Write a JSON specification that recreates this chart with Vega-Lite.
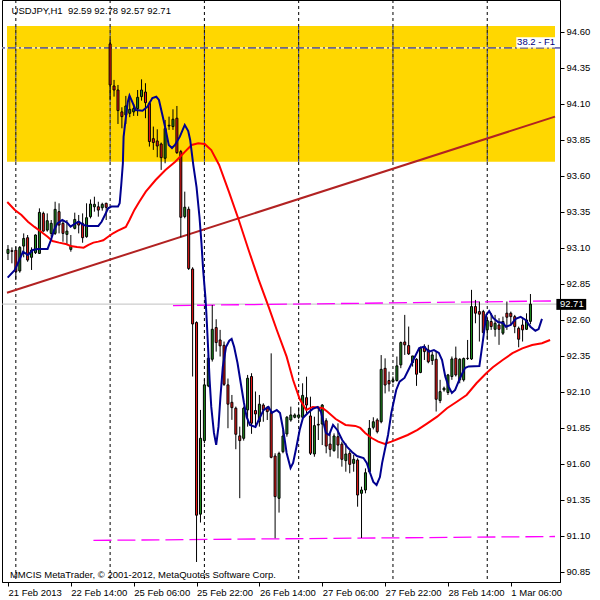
{
 "$schema": "https://vega.github.io/schema/vega-lite/v6.json",
 "width": 558,
 "height": 582,
 "autosize": {"type": "none"},
 "padding": {"left": 2, "top": 0, "right": 40, "bottom": 18},
 "background": "white",
 "config": {"view": {"stroke": "black", "strokeWidth": 1}, "font": "Liberation Sans"},
 "datasets": {
  "zone": [{"i1": -0.25, "i2": 139.25, "p1": 93.699, "p2": 94.641}],
  "grid": [{"i": 2}, {"i": 26}, {"i": 50}, {"i": 74}, {"i": 98}, {"i": 122}],
  "segs": [
   {"k": "trend", "i1": -0.25, "p1": 92.789, "i2": 139.25, "p2": 94.012},
   {"k": "mag1", "i1": 42, "p1": 92.700, "i2": 139.25, "p2": 92.732},
   {"k": "mag2", "i1": 21.75, "p1": 91.069, "i2": 139.25, "p2": 91.096}
  ],
  "candles": [
   {"i":0,"o":93.062,"h":93.120,"l":93.016,"c":93.090},
   {"i":1,"o":93.081,"h":93.104,"l":92.993,"c":93.076},
   {"i":2,"o":93.085,"h":93.109,"l":92.877,"c":92.935},
   {"i":3,"o":92.940,"h":93.113,"l":92.928,"c":93.104},
   {"i":4,"o":93.113,"h":93.201,"l":93.035,"c":93.166},
   {"i":5,"o":93.171,"h":93.190,"l":93.004,"c":93.016},
   {"i":6,"o":93.035,"h":93.104,"l":92.947,"c":93.085},
   {"i":7,"o":93.067,"h":93.194,"l":93.058,"c":93.190},
   {"i":8,"o":93.062,"h":93.375,"l":93.058,"c":93.347},
   {"i":9,"o":93.340,"h":93.352,"l":93.213,"c":93.217},
   {"i":10,"o":93.224,"h":93.340,"l":93.213,"c":93.289},
   {"i":11,"o":93.201,"h":93.294,"l":93.178,"c":93.271},
   {"i":12,"o":93.201,"h":93.421,"l":93.190,"c":93.368},
   {"i":13,"o":93.352,"h":93.410,"l":93.201,"c":93.259},
   {"i":14,"o":93.271,"h":93.294,"l":93.143,"c":93.201},
   {"i":15,"o":93.194,"h":93.294,"l":93.120,"c":93.217},
   {"i":16,"o":93.090,"h":93.190,"l":93.074,"c":93.113},
   {"i":17,"o":93.236,"h":93.345,"l":93.229,"c":93.298},
   {"i":18,"o":93.282,"h":93.329,"l":93.201,"c":93.259},
   {"i":19,"o":93.271,"h":93.340,"l":93.136,"c":93.171},
   {"i":20,"o":93.178,"h":93.410,"l":93.171,"c":93.310},
   {"i":21,"o":93.317,"h":93.437,"l":93.305,"c":93.405},
   {"i":22,"o":93.386,"h":93.456,"l":93.352,"c":93.403},
   {"i":23,"o":93.386,"h":93.421,"l":93.317,"c":93.363},
   {"i":24,"o":93.379,"h":93.414,"l":93.359,"c":93.403},
   {"i":25,"o":93.410,"h":93.414,"l":93.294,"c":93.382},
   {"i":26,"o":94.517,"h":94.549,"l":94.128,"c":94.232},
   {"i":27,"o":94.225,"h":94.267,"l":94.151,"c":94.197},
   {"i":28,"o":94.197,"h":94.232,"l":93.961,"c":94.054},
   {"i":29,"o":94.045,"h":94.077,"l":93.931,"c":94.012},
   {"i":30,"o":94.024,"h":94.156,"l":93.961,"c":94.086},
   {"i":31,"o":94.035,"h":94.151,"l":94.008,"c":94.063},
   {"i":32,"o":94.045,"h":94.100,"l":94.017,"c":94.068},
   {"i":33,"o":94.068,"h":94.197,"l":94.017,"c":94.146},
   {"i":34,"o":94.151,"h":94.271,"l":94.123,"c":94.197},
   {"i":35,"o":94.183,"h":94.244,"l":94.001,"c":94.109},
   {"i":36,"o":94.105,"h":94.116,"l":93.804,"c":93.839},
   {"i":37,"o":93.859,"h":93.943,"l":93.781,"c":93.832},
   {"i":38,"o":93.843,"h":93.924,"l":93.730,"c":93.808},
   {"i":39,"o":93.822,"h":93.832,"l":93.642,"c":93.727},
   {"i":40,"o":93.723,"h":93.989,"l":93.688,"c":93.929},
   {"i":41,"o":93.947,"h":94.012,"l":93.920,"c":93.952},
   {"i":42,"o":93.943,"h":94.063,"l":93.920,"c":93.994},
   {"i":43,"o":94.001,"h":94.086,"l":93.753,"c":93.762},
   {"i":44,"o":93.769,"h":93.781,"l":93.174,"c":93.313},
   {"i":45,"o":93.318,"h":93.491,"l":93.306,"c":93.383},
   {"i":46,"o":93.369,"h":93.387,"l":92.947,"c":92.957},
   {"i":47,"o":92.954,"h":92.966,"l":92.207,"c":92.572},
   {"i":48,"o":92.582,"h":92.590,"l":90.919,"c":91.244},
   {"i":49,"o":91.251,"h":91.975,"l":91.193,"c":91.778},
   {"i":50,"o":91.762,"h":92.188,"l":91.744,"c":92.149},
   {"i":51,"o":92.142,"h":92.357,"l":92.133,"c":92.334},
   {"i":52,"o":92.327,"h":92.704,"l":92.311,"c":92.535},
   {"i":53,"o":92.547,"h":92.605,"l":92.380,"c":92.443},
   {"i":54,"o":92.461,"h":92.531,"l":92.346,"c":92.420},
   {"i":55,"o":92.424,"h":92.450,"l":92.142,"c":92.153},
   {"i":56,"o":92.149,"h":92.193,"l":91.848,"c":92.015},
   {"i":57,"o":92.028,"h":92.079,"l":91.906,"c":91.991},
   {"i":58,"o":91.987,"h":91.998,"l":91.702,"c":91.806},
   {"i":59,"o":91.795,"h":91.859,"l":91.362,"c":91.762},
   {"i":60,"o":91.778,"h":91.998,"l":91.762,"c":91.987},
   {"i":61,"o":91.975,"h":92.218,"l":91.859,"c":92.195},
   {"i":62,"o":92.207,"h":92.230,"l":91.809,"c":91.883},
   {"i":63,"o":91.971,"h":92.103,"l":91.859,"c":91.947},
   {"i":64,"o":91.894,"h":92.079,"l":91.859,"c":92.015},
   {"i":65,"o":92.009,"h":92.021,"l":91.893,"c":91.974},
   {"i":66,"o":91.991,"h":92.002,"l":91.905,"c":91.963},
   {"i":67,"o":91.956,"h":92.368,"l":91.639,"c":91.646},
   {"i":68,"o":91.655,"h":91.674,"l":91.084,"c":91.373},
   {"i":69,"o":91.361,"h":91.685,"l":91.262,"c":91.673},
   {"i":70,"o":91.685,"h":91.836,"l":91.674,"c":91.794},
   {"i":71,"o":91.808,"h":91.933,"l":91.789,"c":91.924},
   {"i":72,"o":91.905,"h":91.998,"l":91.893,"c":91.940},
   {"i":73,"o":91.924,"h":91.951,"l":91.917,"c":91.940},
   {"i":74,"o":91.924,"h":91.993,"l":91.910,"c":91.940},
   {"i":75,"o":91.924,"h":92.160,"l":91.910,"c":92.076},
   {"i":76,"o":92.060,"h":92.206,"l":91.951,"c":92.009},
   {"i":77,"o":91.933,"h":92.067,"l":91.662,"c":91.674},
   {"i":78,"o":91.669,"h":91.928,"l":91.650,"c":91.866},
   {"i":79,"o":91.875,"h":91.998,"l":91.766,"c":91.870},
   {"i":80,"o":91.877,"h":92.016,"l":91.731,"c":92.009},
   {"i":81,"o":91.900,"h":91.917,"l":91.674,"c":91.724},
   {"i":82,"o":91.738,"h":91.812,"l":91.650,"c":91.701},
   {"i":83,"o":91.692,"h":91.812,"l":91.685,"c":91.794},
   {"i":84,"o":91.789,"h":91.882,"l":91.639,"c":91.731},
   {"i":85,"o":91.738,"h":91.755,"l":91.581,"c":91.632},
   {"i":86,"o":91.623,"h":91.743,"l":91.546,"c":91.669},
   {"i":87,"o":91.674,"h":91.690,"l":91.535,"c":91.597},
   {"i":88,"o":91.604,"h":91.662,"l":91.546,"c":91.632},
   {"i":89,"o":91.627,"h":91.639,"l":91.303,"c":91.384},
   {"i":90,"o":91.396,"h":91.442,"l":91.086,"c":91.419},
   {"i":91,"o":91.419,"h":91.569,"l":91.396,"c":91.539},
   {"i":92,"o":91.546,"h":91.905,"l":91.535,"c":91.847},
   {"i":93,"o":91.854,"h":91.924,"l":91.840,"c":91.893},
   {"i":94,"o":91.905,"h":91.917,"l":91.812,"c":91.824},
   {"i":95,"o":91.893,"h":92.356,"l":91.882,"c":92.257},
   {"i":96,"o":92.264,"h":92.333,"l":92.090,"c":92.148},
   {"i":97,"o":92.179,"h":92.241,"l":92.103,"c":92.156},
   {"i":98,"o":92.172,"h":92.207,"l":92.160,"c":92.184},
   {"i":99,"o":92.179,"h":92.346,"l":92.172,"c":92.281},
   {"i":100,"o":92.288,"h":92.450,"l":92.265,"c":92.443},
   {"i":101,"o":92.447,"h":92.635,"l":92.357,"c":92.427},
   {"i":102,"o":92.422,"h":92.554,"l":92.357,"c":92.364},
   {"i":103,"o":92.304,"h":92.350,"l":92.276,"c":92.350},
   {"i":104,"o":92.327,"h":92.334,"l":92.142,"c":92.223},
   {"i":105,"o":92.235,"h":92.415,"l":92.230,"c":92.403},
   {"i":106,"o":92.415,"h":92.431,"l":92.322,"c":92.380},
   {"i":107,"o":92.392,"h":92.427,"l":92.299,"c":92.309},
   {"i":108,"o":92.318,"h":92.380,"l":92.288,"c":92.357},
   {"i":109,"o":92.327,"h":92.380,"l":91.964,"c":92.049},
   {"i":110,"o":92.040,"h":92.184,"l":92.022,"c":92.102},
   {"i":111,"o":92.114,"h":92.137,"l":92.102,"c":92.126},
   {"i":112,"o":92.096,"h":92.225,"l":92.079,"c":92.218},
   {"i":113,"o":92.207,"h":92.346,"l":92.184,"c":92.329},
   {"i":114,"o":92.334,"h":92.415,"l":92.207,"c":92.218},
   {"i":115,"o":92.184,"h":92.334,"l":92.160,"c":92.327},
   {"i":116,"o":92.184,"h":92.339,"l":92.172,"c":92.332},
   {"i":117,"o":92.334,"h":92.461,"l":92.322,"c":92.332},
   {"i":118,"o":92.329,"h":92.809,"l":92.322,"c":92.693},
   {"i":119,"o":92.693,"h":92.739,"l":92.577,"c":92.647},
   {"i":120,"o":92.658,"h":92.728,"l":92.450,"c":92.640},
   {"i":121,"o":92.658,"h":92.670,"l":92.508,"c":92.512},
   {"i":122,"o":92.531,"h":92.623,"l":92.461,"c":92.596},
   {"i":123,"o":92.589,"h":92.647,"l":92.531,"c":92.554},
   {"i":124,"o":92.535,"h":92.635,"l":92.484,"c":92.577},
   {"i":125,"o":92.565,"h":92.612,"l":92.427,"c":92.535},
   {"i":126,"o":92.508,"h":92.623,"l":92.496,"c":92.589},
   {"i":127,"o":92.647,"h":92.728,"l":92.531,"c":92.619},
   {"i":128,"o":92.647,"h":92.658,"l":92.565,"c":92.623},
   {"i":129,"o":92.623,"h":92.635,"l":92.508,"c":92.554},
   {"i":130,"o":92.542,"h":92.554,"l":92.410,"c":92.466},
   {"i":131,"o":92.565,"h":92.605,"l":92.450,"c":92.531},
   {"i":132,"o":92.535,"h":92.646,"l":92.531,"c":92.600},
   {"i":133,"o":92.590,"h":92.780,"l":92.570,"c":92.710}
  ],
  "blue": [
   {"i":-0.08,"p":92.894},{"i":1.75,"p":92.947},{"i":3.83,"p":93.074},{"i":5.08,"p":93.051},{"i":6.33,"p":93.086},
   {"i":7.58,"p":93.093},{"i":10.08,"p":93.093},{"i":10.93,"p":93.155},{"i":11.75,"p":93.225},{"i":12.58,"p":93.271},
   {"i":13.83,"p":93.294},{"i":15.08,"p":93.275},{"i":15.93,"p":93.248},{"i":17.18,"p":93.271},{"i":18,"p":93.282},
   {"i":19.25,"p":93.259},{"i":20.5,"p":93.253},{"i":23,"p":93.253},{"i":23.83,"p":93.282},{"i":24.68,"p":93.329},
   {"i":25.5,"p":93.375},{"i":26.33,"p":93.387},{"i":28,"p":93.387},{"i":28.43,"p":93.410},{"i":28.83,"p":93.537},
   {"i":29.25,"p":93.688},{"i":29.43,"p":93.871},{"i":29.93,"p":93.989},{"i":30.5,"p":94.114},{"i":30.93,"p":94.159},
   {"i":31.75,"p":94.107},{"i":32.5,"p":94.058},{"i":34.25,"p":94.053},{"i":35.5,"p":94.081},{"i":36.75,"p":94.141},
   {"i":37.75,"p":94.150},{"i":38.43,"p":94.128},{"i":39.25,"p":94.030},{"i":40,"p":93.940},{"i":40.93,"p":93.815},
   {"i":41.75,"p":93.794},{"i":42.5,"p":93.815},{"i":43.75,"p":93.873},{"i":45,"p":93.954},{"i":45.88,"p":93.912},
   {"i":46.38,"p":93.850},{"i":47.18,"p":93.676},{"i":48,"p":93.523},{"i":48.75,"p":93.315},{"i":49.25,"p":93.135},
   {"i":49.68,"p":92.947},{"i":50.25,"p":92.760},{"i":50.5,"p":92.648},{"i":50.93,"p":92.412},{"i":51.33,"p":92.183},
   {"i":51.75,"p":91.996},{"i":52.43,"p":91.815},{"i":53,"p":91.732},{"i":53.58,"p":91.857},{"i":54.08,"p":92.065},
   {"i":54.68,"p":92.273},{"i":55.5,"p":92.412},{"i":56.33,"p":92.456},{"i":56.93,"p":92.468},{"i":57.58,"p":92.412},
   {"i":58.43,"p":92.301},{"i":59.25,"p":92.162},{"i":60.08,"p":92.023},{"i":60.75,"p":91.926},{"i":61.58,"p":91.871},
   {"i":63,"p":91.857},{"i":63.83,"p":91.905},{"i":65.08,"p":91.975},{"i":66.33,"p":91.996},{"i":67.18,"p":91.954},
   {"i":68.43,"p":91.975},{"i":69.25,"p":91.954},{"i":70.08,"p":91.836},{"i":70.93,"p":91.676},{"i":71.93,"p":91.572},
   {"i":72.58,"p":91.607},{"i":73.43,"p":91.718},{"i":74.25,"p":91.836},{"i":75.08,"p":91.919},{"i":76.33,"p":91.954},
   {"i":77.58,"p":91.982},{"i":78.83,"p":91.996},{"i":79.68,"p":91.961},{"i":80.93,"p":91.815},{"i":81.75,"p":91.801},
   {"i":82.75,"p":91.871},{"i":83.83,"p":91.836},{"i":85.08,"p":91.766},{"i":86.33,"p":91.718},{"i":87.58,"p":91.683},
   {"i":88.83,"p":91.655},{"i":90.5,"p":91.641},{"i":91.33,"p":91.607},{"i":92.18,"p":91.537},{"i":93,"p":91.475},
   {"i":93.83,"p":91.454},{"i":94.68,"p":91.509},{"i":95.25,"p":91.607},{"i":95.93,"p":91.697},{"i":96.75,"p":91.801},
   {"i":97.58,"p":91.954},{"i":98.83,"p":92.114},{"i":99.68,"p":92.171},{"i":100.93,"p":92.197},{"i":102.18,"p":92.266},
   {"i":103.43,"p":92.336},{"i":104.68,"p":92.405},{"i":105.93,"p":92.414},{"i":107.18,"p":92.380},{"i":108.43,"p":92.391},
   {"i":109.68,"p":92.371},{"i":110.5,"p":92.322},{"i":111.33,"p":92.206},{"i":112.18,"p":92.137},{"i":113,"p":92.093},
   {"i":113.83,"p":92.114},{"i":115.08,"p":92.197},{"i":116.33,"p":92.266},{"i":117.25,"p":92.277},{"i":120,"p":92.280},
   {"i":120.93,"p":92.461},{"i":121.75,"p":92.635},{"i":122.5,"p":92.662},{"i":123.5,"p":92.614},{"i":124.75,"p":92.586},
   {"i":126,"p":92.579},{"i":126.75,"p":92.553},{"i":128,"p":92.565},{"i":129.25,"p":92.607},{"i":130.5,"p":92.621},
   {"i":131.75,"p":92.600},{"i":133,"p":92.553},{"i":134.25,"p":92.525},{"i":135.08,"p":92.537},{"i":135.93,"p":92.607}
  ],
  "red": [
   {"i":-0.18,"p":93.419},{"i":1.75,"p":93.364},{"i":3.43,"p":93.329},{"i":5.08,"p":93.282},{"i":6.75,"p":93.246},
   {"i":8.43,"p":93.213},{"i":10.08,"p":93.178},{"i":11.33,"p":93.148},{"i":13,"p":93.137},{"i":14.68,"p":93.128},
   {"i":15.93,"p":93.114},{"i":17.58,"p":93.107},{"i":19.25,"p":93.102},{"i":20.5,"p":93.121},{"i":21.75,"p":93.137},
   {"i":23,"p":93.144},{"i":24.25,"p":93.153},{"i":25.5,"p":93.178},{"i":26.75,"p":93.202},{"i":28,"p":93.220},
   {"i":30,"p":93.246},{"i":30.93,"p":93.294},{"i":32.18,"p":93.364},{"i":33.43,"p":93.421},{"i":35.08,"p":93.491},
   {"i":37.58,"p":93.572},{"i":40.08,"p":93.641},{"i":42.58,"p":93.699},{"i":45.08,"p":93.769},{"i":46.75,"p":93.815},
   {"i":48.43,"p":93.827},{"i":50.08,"p":93.822},{"i":51.75,"p":93.780},{"i":53.75,"p":93.676},{"i":56.25,"p":93.489},
   {"i":58.75,"p":93.294},{"i":61.25,"p":93.086},{"i":63.83,"p":92.878},{"i":66.33,"p":92.692},{"i":68.43,"p":92.530},
   {"i":70.93,"p":92.345},{"i":72.58,"p":92.183},{"i":74.25,"p":92.051},{"i":75.93,"p":91.975},{"i":77.58,"p":91.996},
   {"i":80.08,"p":91.989},{"i":81.33,"p":91.963},{"i":83.43,"p":91.912},{"i":85.93,"p":91.871},{"i":88.43,"p":91.864},
   {"i":89.68,"p":91.850},{"i":90.93,"p":91.815},{"i":92.58,"p":91.780},{"i":94.25,"p":91.755},{"i":95.93,"p":91.739},
   {"i":97.58,"p":91.755},{"i":99.25,"p":91.773},{"i":101.75,"p":91.801},{"i":104.25,"p":91.836},{"i":106.75,"p":91.882},
   {"i":109.25,"p":91.928},{"i":111.75,"p":91.987},{"i":114.25,"p":92.032},{"i":116.75,"p":92.079},{"i":119.25,"p":92.160},
   {"i":121.75,"p":92.230},{"i":123.43,"p":92.271},{"i":125.93,"p":92.322},{"i":128.43,"p":92.369},{"i":130.93,"p":92.403},
   {"i":133.43,"p":92.426},{"i":135.93,"p":92.438},{"i":138,"p":92.461}
  ],
  "fibbox": [{"i1": 129.4, "i2": 139.25, "p1": 94.492, "p2": 94.563}],
  "pricebox": [{"i1": 139.6, "i2": 147.2, "p1": 92.670, "p2": 92.746}],
  "titletext": [{"t": "USDJPY,H1 \u00a092.59 92.78 92.57 92.71", "i": 0.92, "p": 94.748}],
  "copytext": [{"t": "MMCIS MetaTrader, \u00a9 2001-2012, MetaQuotes Software Corp.", "i": 0.5, "p": 90.829}],
  "fibtext": [{"t": "38.2 - F1", "i": 129.6, "p": 94.527}],
  "pricetext": [{"t": "92.71", "i": 140.5, "p": 92.708}]
 },
 "encoding": {
  "x": {"type": "quantitative",
   "scale": {"domain": [-0.25, 139.25], "nice": false, "zero": false},
   "axis": {"orient": "bottom", "values": [0, 16, 32, 48, 64, 80, 96, 112, 128],
    "labelExpr": "['21 Feb 2013','22 Feb 14:00','25 Feb 06:00','25 Feb 22:00','26 Feb 14:00','27 Feb 06:00','27 Feb 22:00','28 Feb 14:00','1 Mar 06:00'][round(datum.value/16)]",
    "labelAlign": "left", "labelBaseline": "top", "labelPadding": 1, "labelDx": -3, "tickSize": 4,
    "tickColor": "black", "domainColor": "black", "labelColor": "black",
    "labelFont": "Liberation Sans", "labelFontSize": 9.5, "title": null, "grid": false,
    "labelOverlap": false, "labelFlush": false, "labelBound": false}},
  "y": {"type": "quantitative",
   "scale": {"domain": [90.78, 94.822], "nice": false, "zero": false},
   "axis": {"orient": "right", "values": [90.85, 91.1, 91.35, 91.6, 91.85, 92.1, 92.35, 92.6, 92.85, 93.1, 93.35, 93.6, 93.85, 94.1, 94.35, 94.6],
    "format": ".2f", "tickSize": 4, "labelPadding": 2, "tickColor": "black", "domainColor": "black",
    "labelColor": "black", "labelFont": "Liberation Sans", "labelFontSize": 9.5, "title": null,
    "grid": false, "labelOverlap": false, "labelFlush": false, "labelBound": false}}
 },
 "layer": [
  {
   "data": {"name": "zone"},
   "mark": {"type": "rect", "color": "#FFD700"},
   "encoding": {
    "x": {"field": "i1"},
    "x2": {"field": "i2"},
    "y": {"field": "p1"},
    "y2": {"field": "p2"}
   }
  },
  {
   "data": {"name": "grid"},
   "mark": {"type": "rule", "color": "black", "strokeDash": [3, 3], "strokeWidth": 1},
   "encoding": {"x": {"field": "i"}, "y": null}
  },
  {
   "data": {"name": "grid"},
   "mark": {"type": "rule", "color": "#2030C0", "strokeDash": [3, 3], "strokeWidth": 1},
   "encoding": {
    "x": {"field": "i"},
    "y": {"datum": 93.699},
    "y2": {"datum": 94.641}
   }
  },
  {
   "data": {"name": "zone"},
   "mark": {"type": "rule", "color": "#C0C0C0", "strokeWidth": 1},
   "encoding": {"x": null, "y": {"datum": 92.71}}
  },
  {
   "data": {"name": "zone"},
   "mark": {"type": "rule", "color": "white", "strokeWidth": 1},
   "encoding": {"x": null, "y": {"datum": 94.489}}
  },
  {
   "data": {"name": "zone"},
   "mark": {"type": "rule", "color": "#000080", "strokeWidth": 1, "strokeDash": [8, 3, 2, 3]},
   "encoding": {"x": null, "y": {"datum": 94.489}}
  },
  {
   "data": {"name": "segs"},
   "transform": [{"filter": "datum.k != 'trend'"}],
   "mark": {"type": "rule", "color": "#FF00FF", "strokeWidth": 1.3, "strokeDash": [18, 6]},
   "encoding": {
    "x": {"field": "i1"},
    "x2": {"field": "i2"},
    "y": {"field": "p1"},
    "y2": {"field": "p2"}
   }
  },
  {
   "data": {"name": "segs"},
   "transform": [{"filter": "datum.k == 'trend'"}],
   "mark": {"type": "rule", "color": "#B22222", "strokeWidth": 2},
   "encoding": {
    "x": {"field": "i1"},
    "x2": {"field": "i2"},
    "y": {"field": "p1"},
    "y2": {"field": "p2"}
   }
  },
  {
   "data": {"name": "candles"},
   "mark": {"type": "rule", "color": "black", "strokeWidth": 1},
   "encoding": {
    "x": {"field": "i"},
    "y": {"field": "l"},
    "y2": {"field": "h"}
   }
  },
  {
   "data": {"name": "candles"},
   "mark": {"type": "bar", "size": 2, "stroke": "black", "strokeWidth": 1},
   "encoding": {
    "x": {"field": "i"},
    "y": {"field": "o"},
    "y2": {"field": "c"},
    "fill": {"condition": {"test": "datum.c >= datum.o", "value": "#1E8C1E"}, "value": "#F01818"}
   }
  },
  {
   "data": {"name": "red"},
   "mark": {"type": "line", "color": "#FF0000", "strokeWidth": 2},
   "encoding": {"x": {"field": "i"}, "y": {"field": "p"}}
  },
  {
   "data": {"name": "blue"},
   "mark": {"type": "line", "color": "#000090", "strokeWidth": 2},
   "encoding": {"x": {"field": "i"}, "y": {"field": "p"}}
  },
  {
   "data": {"name": "fibbox"},
   "mark": {"type": "rect", "color": "white"},
   "encoding": {
    "x": {"field": "i1"},
    "x2": {"field": "i2"},
    "y": {"field": "p1"},
    "y2": {"field": "p2"}
   }
  },
  {
   "data": {"name": "fibtext"},
   "mark": {"type": "text", "align": "left", "baseline": "middle", "font": "Liberation Sans", "fontSize": 9.5, "color": "#000080"},
   "encoding": {"x": {"field": "i"}, "y": {"field": "p"}, "text": {"field": "t"}}
  },
  {
   "data": {"name": "pricebox"},
   "mark": {"type": "rect", "color": "black", "clip": false},
   "encoding": {
    "x": {"field": "i1"},
    "x2": {"field": "i2"},
    "y": {"field": "p1"},
    "y2": {"field": "p2"}
   }
  },
  {
   "data": {"name": "pricetext"},
   "mark": {"type": "text", "align": "left", "baseline": "middle", "font": "Liberation Sans", "fontSize": 9.5, "color": "white", "clip": false},
   "encoding": {"x": {"field": "i"}, "y": {"field": "p"}, "text": {"field": "t"}}
  },
  {
   "data": {"name": "titletext"},
   "mark": {"type": "text", "align": "left", "baseline": "middle", "font": "Liberation Sans", "fontSize": 9.5, "color": "black"},
   "encoding": {"x": {"field": "i"}, "y": {"field": "p"}, "text": {"field": "t"}}
  },
  {
   "data": {"name": "copytext"},
   "mark": {"type": "text", "align": "left", "baseline": "middle", "font": "Liberation Sans", "fontSize": 9.5, "color": "black"},
   "encoding": {"x": {"field": "i"}, "y": {"field": "p"}, "text": {"field": "t"}}
  }
 ]
}
